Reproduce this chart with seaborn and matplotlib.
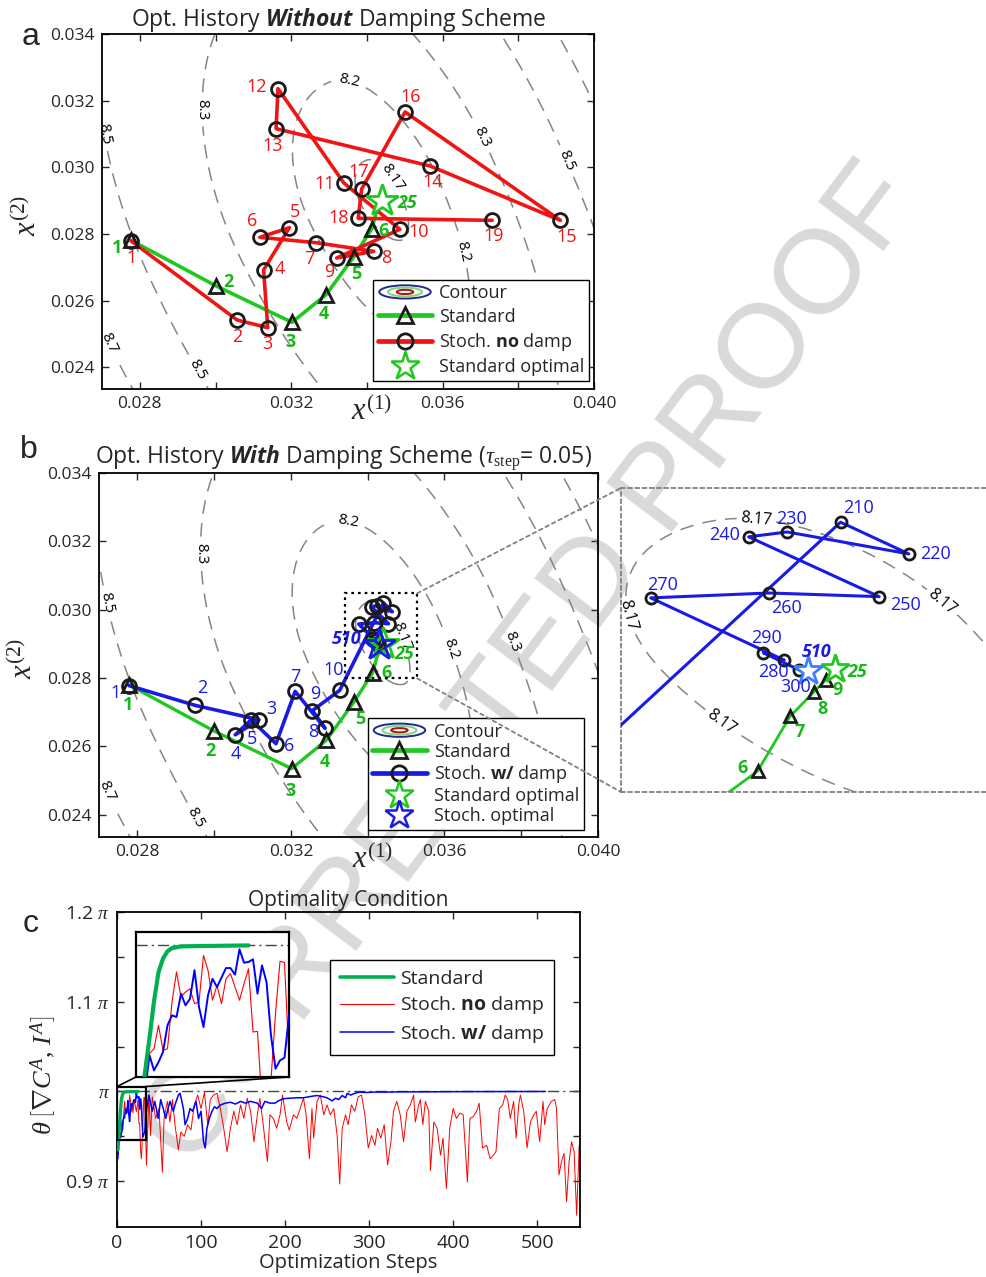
import numpy as np
import pandas as pd
import seaborn as sns
import matplotlib
matplotlib.use("Agg")
import matplotlib.pyplot as plt
from matplotlib.lines import Line2D
from matplotlib.patches import Ellipse, Rectangle, ConnectionPatch
from matplotlib.legend_handler import HandlerBase
import matplotlib.ticker as mticker

# ------------------------------------------------------------------ data
# Standard optimisation path (steps 1..9 and the optimum at step 25)
std_steps = [1, 2, 3, 4, 5, 6, 7, 8, 9, 25]
std_x = [0.02777, 0.03000, 0.03202, 0.03292, 0.03365, 0.03413, 0.03424, 0.03432, 0.03436, 0.03439]
std_y = [0.02781, 0.02645, 0.02535, 0.02618, 0.02731, 0.02816, 0.02861, 0.02881, 0.02891, 0.02900]

# Stochastic path without damping (steps 1..19)
nod_steps = list(range(1, 20))
nod_x = [0.02777, 0.03057, 0.03138, 0.03127, 0.03195, 0.03117, 0.03265, 0.03418, 0.03320, 0.03487,
         0.03339, 0.03165, 0.03160, 0.03567, 0.03911, 0.03501, 0.03386, 0.03377, 0.03731]
nod_y = [0.02779, 0.02542, 0.02519, 0.02692, 0.02819, 0.02790, 0.02774, 0.02748, 0.02728, 0.02814,
         0.02953, 0.03236, 0.03116, 0.03004, 0.02841, 0.03166, 0.02935, 0.02847, 0.02841]

# Stochastic path with damping
dmp_steps = [1, 2, 3, 4, 5, 6, 7, 8, 9, 10, 210, 220, 230, 240, 250, 260, 270, 280, 290, 300, 510]
dmp_x = [0.02778, 0.02951, 0.03117, 0.03055, 0.03096, 0.03161, 0.03211, 0.03289, 0.03256, 0.03327,
         0.03441, 0.03464, 0.03423, 0.03410, 0.03454, 0.03417, 0.03377, 0.03422, 0.03415, 0.03427, 0.03430]
dmp_y = [0.02778, 0.02720, 0.02678, 0.02634, 0.02678, 0.02608, 0.02761, 0.02653, 0.02705, 0.02764,
         0.03020, 0.02994, 0.03012, 0.03008, 0.02959, 0.02962, 0.02958, 0.02907, 0.02913, 0.02899, 0.02898]

# objective surface (contours)
contour_levels = [8.17, 8.2, 8.3, 8.5, 8.7]
surf_min = 8.167
surf_cx, surf_cy = 0.0344, 0.0292
surf_tilt_deg = 22.0
surf_a_left, surf_a_right = 11.5, 8.5
surf_b_up, surf_b_down = 20.0, 27.0

# Optimality condition (in units of pi)
c_std_steps = [1, 2, 3, 4, 5, 6, 7, 8, 10, 13, 25]
c_std_vals = [0.935, 0.948, 0.962, 0.977, 0.989, 0.9946, 0.9976, 0.9989, 0.9996, 0.9997, 1.0]

c_red_steps = [1, 2, 3, 4, 5, 6, 7, 8, 9, 10, 11, 12, 13, 14, 15, 16, 17, 18, 19, 20, 21, 23, 24, 25,
               26, 27, 28, 29, 30, 31, 32, 33, 34, 35, 38, 40, 42, 46, 50, 54, 56, 60, 63, 66, 69, 73,
               76, 80, 84, 88, 92, 96, 100, 104, 108, 111, 115, 119, 123, 127, 131, 135, 139, 143, 147,
               151, 155, 159, 163, 167, 170, 174, 179, 182, 186, 190, 194, 197, 202, 205, 210, 214, 218,
               222, 225, 229, 232, 234, 238, 242, 246, 250, 254, 258, 262, 265, 268, 272, 275, 279, 283,
               287, 291, 295, 299, 303, 307, 310, 314, 318, 322, 326, 329, 333, 337, 341, 345, 349, 353,
               355, 359, 361, 364, 367, 371, 373, 377, 381, 385, 388, 392, 396, 400, 404, 408, 412, 417,
               420, 424, 428, 431, 435, 440, 444, 448, 451, 455, 459, 462, 465, 468, 472, 475, 478, 480,
               484, 488, 492, 496, 499, 503, 507, 509, 512, 517, 521, 523, 526, 529, 532, 535, 538, 541,
               544, 547, 550]
c_red_vals = [0.930, 0.945, 0.9556, 0.9576, 0.9672, 0.9569, 0.9576, 0.9768, 0.9891, 0.9788, 0.9809,
              0.9822, 0.9761, 0.9768, 0.9959, 0.9898, 0.9775, 0.9836, 0.9761, 0.9863, 0.9884, 0.9775,
              0.9843, 0.9904, 0.9645, 0.9647, 0.935, 0.925, 0.945, 0.972, 0.9935, 0.993, 0.9535, 0.918,
              0.996, 0.951, 0.994, 0.970, 0.981, 0.910, 0.970, 0.989, 0.966, 0.991, 0.963, 0.935, 0.955,
              0.950, 0.963, 0.957, 0.985, 0.996, 0.981, 0.999, 0.963, 0.991, 0.996, 0.998, 0.981, 0.959,
              0.933, 0.959, 0.978, 0.963, 0.985, 0.970, 0.9925, 0.978, 0.944, 0.974, 0.9925, 0.963,
              0.922, 0.974, 0.970, 0.959, 0.974, 0.996, 0.966, 0.957, 0.974, 0.970, 0.981, 0.9925, 0.974,
              0.925, 0.981, 0.948, 0.989, 0.996, 0.974, 0.985, 0.974, 0.981, 0.951, 0.897, 0.959, 0.974,
              0.963, 0.985, 0.978, 0.994, 0.996, 0.974, 0.937, 0.951, 0.940, 0.959, 0.948, 0.963, 0.918,
              0.944, 0.978, 0.989, 0.974, 0.944, 0.978, 0.985, 0.996, 0.966, 0.985, 0.991, 0.963, 0.989,
              0.978, 0.912, 0.966, 0.959, 0.929, 0.948, 0.892, 0.959, 0.981, 0.970, 0.976, 0.974, 0.899,
              0.970, 0.972, 0.978, 0.987, 0.937, 0.940, 0.925, 0.929, 0.933, 0.981, 0.985, 0.996, 0.991,
              0.970, 0.989, 0.948, 0.985, 0.996, 0.978, 0.937, 0.966, 0.974, 0.978, 0.944, 0.989, 0.963,
              0.981, 0.989, 0.991, 0.981, 0.907, 0.922, 0.931, 0.877, 0.922, 0.944, 0.933, 0.862, 0.940]

c_blue_steps = [1, 2, 3, 4, 5, 6, 7, 8, 9, 10, 11, 12, 13, 14, 15, 16, 17, 18, 20, 21, 22, 23, 24, 25,
                26, 27, 28, 29, 30, 31, 32, 33, 34, 36, 38, 42, 45, 49, 52, 55, 58, 60, 63, 67, 69, 73,
                75, 79, 81, 84, 87, 90, 94, 97, 100, 103, 105, 107, 110, 113, 116, 119, 123, 129, 135,
                141, 147, 153, 159, 167, 172, 176, 182, 188, 192, 198, 206, 214, 222, 230, 238, 244, 250,
                256, 260, 264, 268, 272, 274, 278, 283, 289, 297, 305, 321, 337, 361, 400, 450, 510]
c_blue_vals = [0.925, 0.940, 0.9549, 0.9487, 0.9521, 0.9563, 0.9672, 0.9713, 0.9706, 0.9802, 0.9754,
               0.9781, 0.9898, 0.9747, 0.9665, 0.9795, 0.9863, 0.9829, 0.9907, 0.9907, 0.988, 0.9984,
               0.9929, 0.9932, 0.9943, 0.9802, 0.9918, 0.985, 0.963, 0.9494, 0.9528, 0.9539, 0.9713,
               0.985, 0.996, 0.978, 0.989, 0.970, 0.991, 0.981, 0.970, 0.978, 0.989, 0.978, 0.985, 0.996,
               0.998, 0.981, 0.963, 0.970, 0.981, 0.978, 0.989, 0.970, 0.978, 0.944, 0.937, 0.959, 0.970,
               0.978, 0.983, 0.981, 0.985, 0.987, 0.988, 0.986, 0.989, 0.987, 0.989, 0.987, 0.981, 0.989,
               0.987, 0.987, 0.9895, 0.992, 0.9925, 0.993, 0.993, 0.9944, 0.9955, 0.9944, 0.993, 0.9895,
               0.9925, 0.991, 0.9955, 0.993, 0.998, 0.996, 0.998, 0.9993, 0.9989, 0.9993, 0.9993, 0.9996,
               0.9996, 0.9998, 0.9999, 1.0]

# ------------------------------------------------------------------ style
sns.set_theme(style="ticks")
plt.rcParams.update({
    "font.family": ["Open Sans", "DejaVu Sans"],
    "mathtext.fontset": "custom",
    "mathtext.rm": "Liberation Serif",
    "mathtext.it": "Liberation Serif:italic",
    "mathtext.bf": "Open Sans:bold",
    "mathtext.bfit": "Open Sans:italic:bold",
    "mathtext.sf": "Open Sans",
    "axes.linewidth": 1.3,
    "xtick.direction": "in", "ytick.direction": "in",
    "xtick.top": True, "ytick.right": True,
    "xtick.major.size": 5, "ytick.major.size": 5,
    "xtick.minor.size": 5, "ytick.minor.size": 5,
    "xtick.major.width": 1.0, "ytick.major.width": 1.0,
    "xtick.labelsize": 12.5, "ytick.labelsize": 12.5,
    "axes.edgecolor": "black",
})

GREEN = "#1ec81e"
GREEN_T = "#19b819"
RED = "#f01414"
BLUE = "#1a1ae6"
CGREEN = "#00b050"
GRAYC = "#858585"
DASH = (0, (9, 6))

W, H = 986, 1277
fig = plt.figure(figsize=(W / 100, H / 100), dpi=100)


def px_axes(l, r, t, b):
    return fig.add_axes([l / W, 1 - b / H, (r - l) / W, (b - t) / H])


axa = px_axes(102, 594, 34, 389)
axb = px_axes(99, 598, 473, 837)
axi = px_axes(621, 986, 488, 792)
axc = px_axes(117, 580, 912, 1227)
axci = px_axes(136, 289, 932, 1077)
for ax in (axa, axb, axi, axc, axci):
    ax.set_facecolor("none")

# watermark
fig.text(0.540, 0.478, "CORRECTED PROOF", rotation=53, fontsize=86, color="#d9d9d9",
         ha="center", va="center", family="Liberation Sans", zorder=-5)

# surface
gx = np.linspace(0.0255, 0.0415, 400)
gy = np.linspace(0.0225, 0.0350, 400)
GX, GY = np.meshgrid(gx, gy)
th = np.deg2rad(surf_tilt_deg)
dX = (GX - surf_cx) / 1e-3
dY = (GY - surf_cy) / 1e-3
U = dX * np.cos(th) + dY * np.sin(th)
V = dX * np.sin(th) - dY * np.cos(th)
AU = np.where(U < 0, surf_a_left, surf_a_right)
BV = np.where(V < 0, surf_b_up, surf_b_down)
F = surf_min + (U / AU) ** 2 + (V / BV) ** 2


def draw_contours(ax, label_pos, lw=1.1, fs=11):
    cs = ax.contour(GX, GY, F, levels=contour_levels, colors=GRAYC, linewidths=lw, zorder=1)
    cs.set_linestyle(DASH)
    ax.clabel(cs, manual=label_pos, inline=True, inline_spacing=4, fontsize=fs,
              fmt=lambda v: f"{v:g}", colors="black")
    return cs


def labels(ax, xs, ys, texts, offs, color, fs=13, **kw):
    for x, y, t, (ox, oy) in zip(xs, ys, texts, offs):
        ax.annotate(str(t), (x, y), xytext=(ox, oy), textcoords="offset pixels",
                    ha="center", va="center", color=color, fontsize=fs, zorder=8, **kw)


def style_xy(ax):
    ax.set_xlim(0.027, 0.040)
    ax.set_ylim(0.02335, 0.034)
    xt = [0.028, 0.030, 0.032, 0.034, 0.036, 0.038, 0.040]
    ax.xaxis.set_major_locator(mticker.FixedLocator(xt))
    ax.xaxis.set_major_formatter(mticker.FuncFormatter(
        lambda v, p: f"{v:.3f}" if round(v * 1000) % 4 == 0 else ""))
    ax.yaxis.set_major_locator(mticker.FixedLocator([0.024, 0.026, 0.028, 0.030, 0.032, 0.034]))
    ax.yaxis.set_major_formatter(mticker.FuncFormatter(lambda v, p: f"{v:.3f}"))
    ax.tick_params(pad=5)
    ax.set_xlabel("")
    ax.set_ylabel("")
    ax.text(0.548, -0.02, r"$x^{(1)}$", transform=ax.transAxes, ha="center", va="top", fontsize=22)
    ax.text(-0.15, 0.49, r"$x^{(2)}$", transform=ax.transAxes, ha="center", va="center",
            rotation=90, fontsize=22)


class ContourHandler(HandlerBase):
    def create_artists(self, legend, orig_handle, xdescent, ydescent, width, height, fontsize, trans):
        cx = width / 2 - xdescent
        cy = height / 2 - ydescent
        arts = []
        for frac, col in [(1.0, "#1f2a8c"), (0.66, "#7fd67f"), (0.32, "#b01010")]:
            arts.append(Ellipse((cx, cy), width * 0.95 * frac, height * 1.05 * frac, fill=False,
                                edgecolor=col, lw=1.4, transform=trans))
        return arts


contour_proxy = Rectangle((0, 0), 1, 1)
h_std = Line2D([], [], color=GREEN, lw=3.4, marker="^", ms=11, mfc="none", mec="k", mew=2)
h_nod = Line2D([], [], color=RED, lw=3.4, marker="o", ms=11, mfc="none", mec="k", mew=2)
h_dmp = Line2D([], [], color=BLUE, lw=3.4, marker="o", ms=11, mfc="none", mec="k", mew=2)
h_sopt = Line2D([], [], ls="none", marker="*", ms=21, mfc="white", mec=GREEN, mew=1.8)
h_dopt = Line2D([], [], ls="none", marker="*", ms=21, mfc="white", mec=BLUE, mew=1.8)

leg_kw = dict(frameon=True, fancybox=False, framealpha=1, edgecolor="black", fontsize=13,
              handlelength=3.0, handletextpad=0.4, borderpad=0.25, borderaxespad=0)

std_x_a, std_y_a = np.array(std_x), np.array(std_y)
std_steps_a = np.array(std_steps)
main_mask = std_steps_a <= 6

# ------------------------------------------------------------------ panel a
ax = axa
draw_contours(ax, [(0.03355, 0.03268), (0.02981, 0.03174), (0.02726, 0.03104), (0.02752, 0.02489),
                   (0.02980, 0.0241), (0.0346, 0.02966), (0.0373, 0.03104), (0.03941, 0.03025),
                   (0.0365, 0.02747)])
sns.lineplot(x=std_x, y=std_y, sort=False, estimator=None, color=GREEN, lw=2.6, ax=ax, legend=False,
             zorder=3)
sns.lineplot(x=nod_x, y=nod_y, sort=False, estimator=None, color=RED, lw=2.6, ax=ax, legend=False,
             zorder=4)
ax.plot(std_x_a[main_mask], std_y_a[main_mask], ls="none", marker="^", ms=10, mfc="none", mec="k",
        mew=2, zorder=5)
ax.plot(nod_x, nod_y, ls="none", marker="o", ms=10, mfc="none", mec="k", mew=2, zorder=6)
ax.plot(std_x[-1], std_y[-1], marker="*", ms=24, mfc="white", mec=GREEN, mew=2, zorder=7)
red_off = [(0, -17), (0, -17), (0, -16), (16, 1), (6, 16), (-8, 16), (-7, -16), (12, -7), (-7, -14),
           (19, -3), (-19, -1), (-21, 2), (-3, -17), (3, -16), (6, -17), (6, 15), (-3, 17), (-20, 0),
           (1, -16)]
labels(ax, nod_x, nod_y, nod_steps, red_off, RED)
grn_off_a = [(-14, -8), (13, 4), (-1, -20), (-2, -19), (3, -17), (12, -2)]
labels(ax, std_x_a[main_mask], std_y_a[main_mask], std_steps_a[main_mask], grn_off_a, GREEN_T,
       fontweight="bold")
labels(ax, [std_x[-1]], [std_y[-1]], [25], [(26, -2)], GREEN_T, fontweight="bold", fontstyle="italic")
style_xy(ax)
ax.set_title(r"Opt. History $\mathbfit{Without}$ Damping Scheme", fontsize=16.5, pad=6, x=0.48)
ax.legend([contour_proxy, h_std, h_nod, h_sopt],
          ["Contour", "Standard", r"Stoch. $\mathbf{no}$ damp", "Standard optimal"],
          handler_map={contour_proxy: ContourHandler()}, loc="lower right",
          bbox_to_anchor=(0.99, 0.0225), labelspacing=0.3, **leg_kw).set_zorder(10)

# ------------------------------------------------------------------ panel b
ax = axb
draw_contours(ax, [(0.03351, 0.03271), (0.02979, 0.03164), (0.02745, 0.03027), (0.02754, 0.02485),
                   (0.02979, 0.02407), (0.0349, 0.0292), (0.03628, 0.0289), (0.03784, 0.0291)])
sns.lineplot(x=std_x, y=std_y, sort=False, estimator=None, color=GREEN, lw=2.4, ax=ax, legend=False,
             zorder=3)
sns.lineplot(x=dmp_x, y=dmp_y, sort=False, estimator=None, color=BLUE, lw=2.6, ax=ax, legend=False,
             zorder=4)
ax.plot(std_x_a[main_mask], std_y_a[main_mask], ls="none", marker="^", ms=10, mfc="none", mec="k",
        mew=2, zorder=5)
ax.plot(dmp_x[:-1], dmp_y[:-1], ls="none", marker="o", ms=10, mfc="none", mec="k", mew=2, zorder=6)
ax.plot(std_x[-1], std_y[-1], marker="*", ms=24, mfc="none", mec=GREEN, mew=2, zorder=7)
ax.plot(dmp_x[-1], dmp_y[-1], marker="*", ms=24, mfc="none", mec=BLUE, mew=2, zorder=7)
blue_off = [(-13, -7), (7, 17), (12, 11), (1, -19), (1, -19), (13, -2), (0, 14), (-12, -4), (3, 17),
            (-6, 20)]
labels(ax, dmp_x[:10], dmp_y[:10], dmp_steps[:10], blue_off, BLUE)
labels(ax, [dmp_x[-1]], [dmp_y[-1]], [510], [(-33, 6)], BLUE, fontweight="bold", fontstyle="italic")
grn_off_b = [(0, -20), (-4, -20), (-1, -22), (-1, -22), (6, -17), (14, 0)]
labels(ax, std_x_a[main_mask], std_y_a[main_mask], std_steps_a[main_mask], grn_off_b, GREEN_T,
       fontweight="bold")
labels(ax, [std_x[-1]], [std_y[-1]], [25], [(22, -10)], GREEN_T, fontweight="bold", fontstyle="italic")
style_xy(ax)
ax.set_title(r"Opt. History $\mathbfit{With}$ Damping Scheme ($\tau_{\mathrm{step}}$= 0.05)",
             fontsize=16.5, pad=6, x=0.49)
ax.legend([contour_proxy, h_std, h_dmp, h_sopt, h_dopt],
          ["Contour", "Standard", r"Stoch. $\mathbf{w/}$ damp", "Standard optimal", "Stoch. optimal"],
          handler_map={contour_proxy: ContourHandler()}, loc="lower right",
          bbox_to_anchor=(0.971, 0.02), labelspacing=0.12, **leg_kw).set_zorder(10)

box_x0, box_x1, box_y0, box_y1 = 0.03341, 0.03529, 0.02799, 0.03048
ax.add_patch(Rectangle((box_x0, box_y0), box_x1 - box_x0, box_y1 - box_y0, fill=False,
                       ls=(0, (1.2, 1.8)), lw=1.6, edgecolor="black", zorder=9))

# ------------------------------------------------------------------ inset b
ax = axi
ax.set_xlim(0.03367, 0.03490)
ax.set_ylim(box_y0, box_y1)
cs = ax.contour(GX, GY, F, levels=contour_levels, colors=GRAYC, linewidths=1.1, zorder=1)
cs.set_linestyle(DASH)
ax.clabel(cs, manual=[(0.03413, 0.03030), (0.03372, 0.02945), (0.03397, 0.02844), (0.03474, 0.02951)],
          inline=True, inline_spacing=4, fontsize=11.5, fmt=lambda v: f"{v:g}", colors="black")
sns.lineplot(x=std_x, y=std_y, sort=False, estimator=None, color=GREEN, lw=2.0, ax=ax, legend=False,
             zorder=3)
sns.lineplot(x=dmp_x, y=dmp_y, sort=False, estimator=None, color=BLUE, lw=2.2, ax=ax, legend=False,
             zorder=4)
ins_mask = (std_steps_a >= 6) & (std_steps_a <= 9)
ax.plot(std_x_a[ins_mask], std_y_a[ins_mask], ls="none", marker="^", ms=8, mfc="none", mec="k",
        mew=2, zorder=5)
ax.plot(dmp_x[10:-1], dmp_y[10:-1], ls="none", marker="o", ms=8, mfc="none", mec="k", mew=2, zorder=5)
ax.plot(std_x[-1], std_y[-1], marker="*", ms=21, mfc="white", mec=GREEN, mew=2, zorder=7)
ax.plot(dmp_x[-1], dmp_y[-1], marker="*", ms=21, mfc="white", mec="#3d7dff", mew=2, zorder=7)
ins_blue_off = [(18, 14), (27, 0), (4, 13), (-24, 2), (26, -8), (17, -15), (12, 13), (-11, -12),
                (3, 15), (-3, -17)]
labels(ax, dmp_x[10:-1], dmp_y[10:-1], dmp_steps[10:-1], ins_blue_off, BLUE)
labels(ax, [dmp_x[-1]], [dmp_y[-1]], [510], [(9, 19)], BLUE, fontweight="bold", fontstyle="italic")
labels(ax, [std_x[-1]], [std_y[-1]], [25], [(23, -3)], GREEN_T, fontweight="bold", fontstyle="italic")
labels(ax, std_x_a[ins_mask], std_y_a[ins_mask], std_steps_a[ins_mask],
       [(-15, 3), (10, -16), (9, -17), (12, -10)], GREEN_T, fontweight="bold")
ax.set_xticks([])
ax.set_yticks([])
ax.tick_params(top=False, right=False)
for side, sp in ax.spines.items():
    sp.set_linestyle((0, (2, 2)))
    sp.set_color("#808080")
    sp.set_linewidth(1.3)
ax.spines["right"].set_visible(False)
for (xa, ya), (xb, yb) in [((box_x1, box_y1), (0, 1)), ((box_x1, box_y0), (0, 0))]:
    cp = ConnectionPatch(xyA=(xa, ya), coordsA=axb.transData, xyB=(xb, yb), coordsB=axi.transAxes,
                         color="#808080", lw=1.3, ls=(0, (2, 2)))
    fig.add_artist(cp)

# ------------------------------------------------------------------ panel c
ax = axc
ax.axhline(1.0, color="#444444", lw=1.0, ls=(0, (8, 3, 1.5, 3)), zorder=1)
sns.lineplot(x=c_red_steps, y=c_red_vals, sort=False, estimator=None, color="#ff0000", lw=0.7,
             ax=ax, legend=False, zorder=2)
sns.lineplot(x=c_blue_steps, y=c_blue_vals, sort=False, estimator=None, color="#0000ff", lw=1.1,
             ax=ax, legend=False, zorder=3)
sns.lineplot(x=c_std_steps, y=c_std_vals, sort=False, estimator=None, color=CGREEN, lw=2.4,
             ax=ax, legend=False, zorder=4)
ax.set_xlim(0, 551)
ax.set_ylim(0.849, 1.2)
ax.xaxis.set_major_locator(mticker.FixedLocator([0, 100, 200, 300, 400, 500]))
ax.yaxis.set_major_locator(mticker.FixedLocator([0.9, 1.0, 1.1, 1.2]))
ax.yaxis.set_minor_locator(mticker.FixedLocator([0.95, 1.05, 1.15]))
ax.yaxis.set_major_formatter(mticker.FixedFormatter([r"0.9 $\pi$", r"$\pi$", r"1.1 $\pi$", r"1.2 $\pi$"]))
ax.tick_params(axis="both", labelsize=14, pad=5)
ax.tick_params(axis="y", which="minor", direction="in", length=5, right=True)
ax.set_xlabel("Optimization Steps", fontsize=14.5, labelpad=1)
ax.set_ylabel("")
ax.text(-0.158, 0.48, r"$\theta\,\left[\nabla C^{A},\,I^{A}\right]$", transform=ax.transAxes,
        rotation=90, ha="center", va="center", fontsize=19)
ax.set_title("Optimality Condition", fontsize=15, pad=4)
ins_x0, ins_x1, ins_y0, ins_y1 = 0, 34, 0.946, 1.0055
ax.add_patch(Rectangle((ins_x0, ins_y0), ins_x1 - ins_x0, ins_y1 - ins_y0, fill=False,
                       lw=1.6, edgecolor="black", zorder=6))
h_cg = Line2D([], [], color=CGREEN, lw=2.6)
h_cr = Line2D([], [], color="#ff0000", lw=0.8)
h_cb = Line2D([], [], color="#0000ff", lw=1.1)
ax.legend([h_cg, h_cr, h_cb], ["Standard", r"Stoch. $\mathbf{no}$ damp", r"Stoch. $\mathbf{w/}$ damp"],
          loc="upper right", bbox_to_anchor=(0.9445, 0.848), frameon=True, fancybox=False,
          framealpha=1, edgecolor="black", fontsize=14, handlelength=2.8, handletextpad=0.3,
          labelspacing=0.35, borderpad=0.5, borderaxespad=0).set_zorder(10)

# inset c
ax = axci
ax.axhline(1.0, color="#444444", lw=1.0, ls=(0, (8, 3, 1.5, 3)), zorder=1)
sns.lineplot(x=c_red_steps, y=c_red_vals, sort=False, estimator=None, color="#ff0000", lw=0.8,
             ax=ax, legend=False, zorder=2)
sns.lineplot(x=c_blue_steps, y=c_blue_vals, sort=False, estimator=None, color="#0000ff", lw=1.4,
             ax=ax, legend=False, zorder=3)
sns.lineplot(x=c_std_steps, y=c_std_vals, sort=False, estimator=None, color=CGREEN, lw=3.0,
             ax=ax, legend=False, zorder=4)
ax.set_xlim(ins_x0, ins_x1)
ax.set_ylim(ins_y0, ins_y1)
ax.set_xticks([])
ax.set_yticks([])
ax.set_xlabel("")
ax.set_ylabel("")
ax.tick_params(top=False, right=False)
for sp in ax.spines.values():
    sp.set_linewidth(1.6)
ax.set_facecolor("white")
for (xa, ya), (xb, yb) in [((ins_x0, ins_y1), (0, 0)), ((ins_x1, ins_y1), (1, 0))]:
    cp = ConnectionPatch(xyA=(xa, ya), coordsA=axc.transData, xyB=(xb, yb), coordsB=axci.transAxes,
                         color="black", lw=1.2)
    fig.add_artist(cp)

# panel letters
for letter, (lx, ly) in {"a": (31, 37), "b": (29, 450), "c": (31, 924)}.items():
    fig.text(lx / W, 1 - ly / H, letter, fontsize=23, family="Liberation Sans", ha="center", va="center")

fig.savefig("out.png", dpi=100)
